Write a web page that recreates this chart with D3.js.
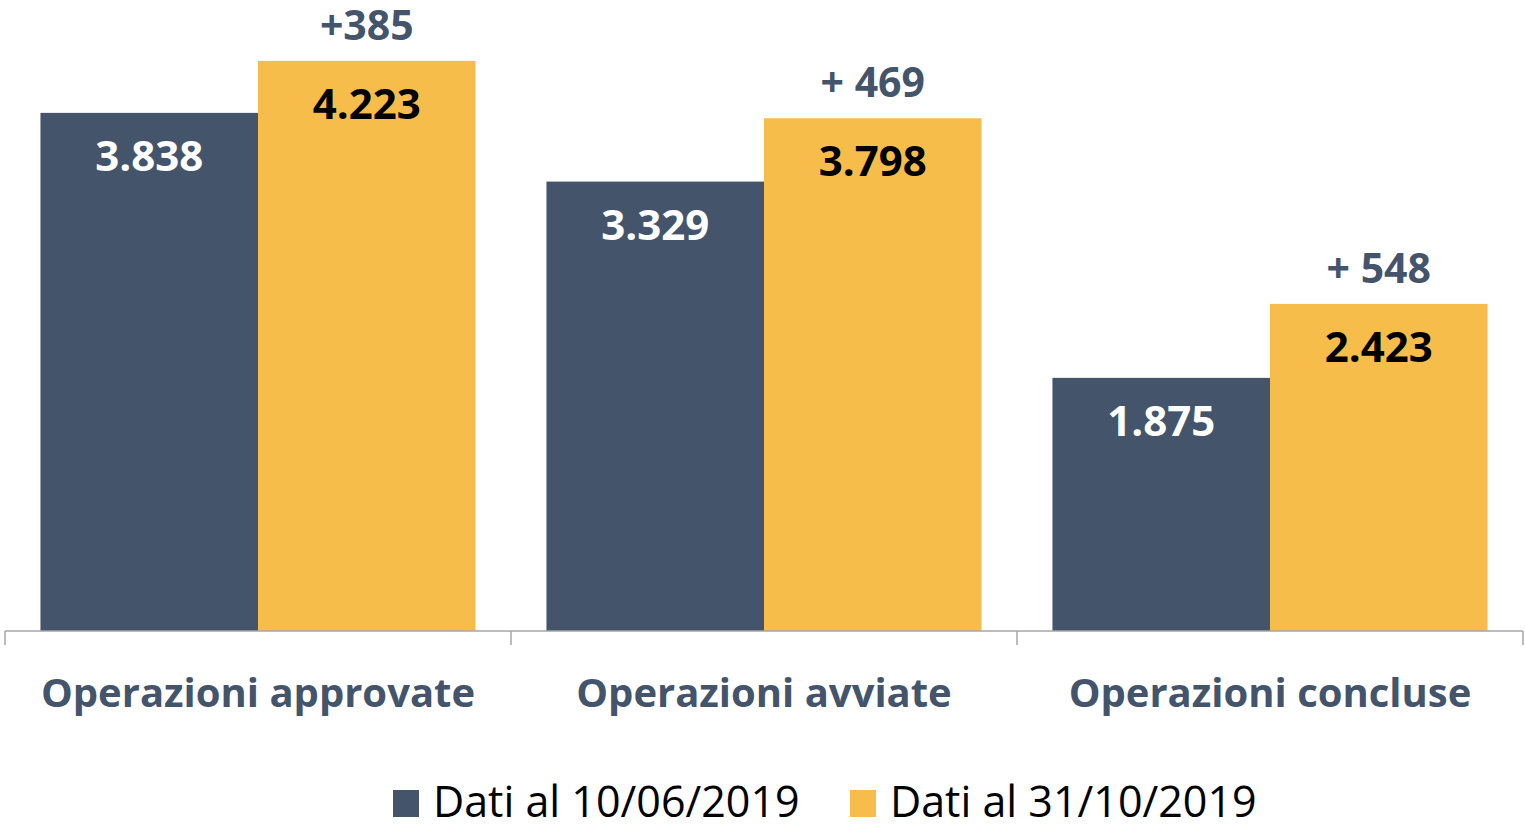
<!DOCTYPE html>
<html>
<head>
<meta charset="utf-8">
<script src="https://cdn.jsdelivr.net/npm/d3@7"></script>
<style>
  body { margin: 0; background: #fff; }
  svg text { font-family: "Open Sans", sans-serif; }
</style>
</head>
<body>
<div id="chart"></div>
<script>
const categories = ["Operazioni approvate", "Operazioni avviate", "Operazioni concluse"];
const seriesNames = ["Dati al 10/06/2019", "Dati al 31/10/2019"];
const june = [3838, 3329, 1875];
const october = [4223, 3798, 2423];
const diffLabels = ["+385", "+ 469", "+ 548"];

const colors = ["#44546a", "#f6bd4a"];
const labelColors = ["#ffffff", "#000000"];
const fmt = v => d3.format(",")(v).replace(/,/g, ".");

const width = 1525, height = 825;
const baseY = 631;

const svg = d3.select("#chart").append("svg")
    .attr("width", width)
    .attr("height", height);

const x0 = d3.scaleBand().domain(categories).range([5, 1523]);
const x1 = d3.scaleBand().domain([0, 1]).range([0, x0.bandwidth()]).paddingOuter(0.163);
const y = d3.scaleLinear().domain([0, 4500]).range([baseY, 23.5]);

const rows = categories.map((c, i) => ({ cat: c, vals: [june[i], october[i]], diff: diffLabels[i] }));

const groups = svg.append("g").selectAll("g")
    .data(rows)
    .enter()
    .append("g")
    .attr("transform", d => `translate(${x0(d.cat)},0)`);

groups.selectAll("rect")
    .data(d => d.vals)
    .enter()
    .append("rect")
    .attr("x", (v, j) => x1(j))
    .attr("y", v => y(v))
    .attr("width", x1.bandwidth())
    .attr("height", v => baseY - y(v))
    .attr("fill", (v, j) => colors[j]);

groups.selectAll("text.val")
    .data(d => d.vals)
    .enter()
    .append("text")
    .attr("class", "val")
    .attr("x", (v, j) => x1(j) + x1.bandwidth() / 2)
    .attr("y", v => y(v) + 58)
    .attr("text-anchor", "middle")
    .style("font-size", "42px")
    .style("font-weight", "bold")
    .style("fill", (v, j) => labelColors[j])
    .text(v => fmt(v));

groups.append("text")
    .attr("x", x1(1) + x1.bandwidth() / 2)
    .attr("y", d => y(d.vals[1]) - 21)
    .attr("text-anchor", "middle")
    .style("font-size", "41px")
    .style("font-weight", "bold")
    .style("fill", colors[0])
    .text(d => d.diff);

// axis
const axis = svg.append("g").attr("transform", `translate(0,${baseY})`)
    .call(d3.axisBottom(x0).tickSize(0).tickFormat(""));
axis.select(".domain").attr("stroke", "#a6a6a6").attr("stroke-width", 1.5)
    .attr("d", "M5,0H1523");
const edges = [5].concat(categories.map(c => x0(c) + x0.step()));
axis.selectAll("line.edge")
    .data(edges)
    .enter()
    .append("line")
    .attr("class", "edge")
    .attr("x1", d => d).attr("x2", d => d)
    .attr("y1", 0).attr("y2", 14)
    .attr("stroke", "#a6a6a6")
    .attr("stroke-width", 1.5);

svg.append("g").selectAll("text")
    .data(categories)
    .enter()
    .append("text")
    .attr("x", d => x0(d) + x0.bandwidth() / 2)
    .attr("y", 707)
    .attr("text-anchor", "middle")
    .style("font-size", "40px")
    .style("font-weight", "bold")
    .style("fill", colors[0])
    .text(d => d);

// legend
const legendX = [393, 850];
const legend = svg.append("g").selectAll("g")
    .data(seriesNames)
    .enter()
    .append("g")
    .attr("transform", (d, i) => `translate(${legendX[i]},790)`);
legend.append("rect")
    .attr("width", 26).attr("height", 27)
    .attr("fill", (d, i) => colors[i]);
legend.append("text")
    .attr("x", 40)
    .attr("y", 27)
    .style("font-size", "43px")
    .style("fill", "#000")
    .text(d => d);
</script>
</body>
</html>
